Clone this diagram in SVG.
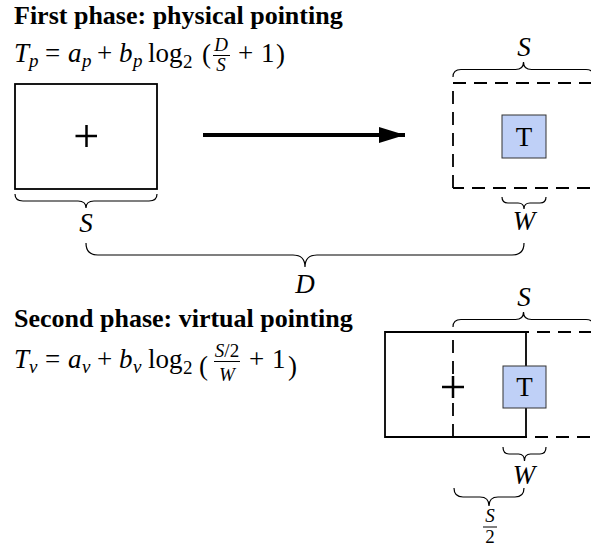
<svg xmlns="http://www.w3.org/2000/svg" width="591" height="550" viewBox="0 0 591 550">
<defs>
<style>
.ti{font-family:"Liberation Serif","Times New Roman",serif;font-weight:bold;font-size:26px;fill:#000}
.m{font-family:"Liberation Serif","Times New Roman",serif;font-size:27px;fill:#000}
.i{font-style:italic}
.sub{font-size:19px}
.box{fill:#fff;stroke:#000;stroke-width:1.8}
.dash{fill:none;stroke:#000;stroke-width:1.8;stroke-dasharray:13 8}
.brace{fill:none;stroke:#000;stroke-width:1.2}
.tgt{fill:#bfd0f7;stroke:#333;stroke-width:1}
.plus{stroke:#000;stroke-width:2.5}
.fl{stroke:#000;stroke-width:1}
</style>
<marker id="ah" viewBox="0 0 26 16" refX="26" refY="8" markerUnits="userSpaceOnUse" markerWidth="26" markerHeight="16" orient="auto">
<path d="M0,0 L26,8 L0,16 Z" fill="#000"/>
</marker>
</defs>
<rect width="591" height="550" fill="#fff"/>

<g id="phase1-title">
<text class="ti" x="14" y="23.5">First phase: physical pointing</text>
</g>
<g id="formula1">
<text class="m i" x="14" y="62">T</text>
<text class="m i sub" x="29" y="67">p</text>
<text class="m" x="45" y="62">=</text>
<text class="m i" x="68" y="62">a</text>
<text class="m i sub" x="82" y="67">p</text>
<text class="m" x="97" y="62">+</text>
<text class="m i" x="119" y="62">b</text>
<text class="m i sub" x="133" y="67">p</text>
<text class="m" x="148" y="62">log</text>
<text class="m sub" x="183" y="68">2</text>
<text class="m" x="202" y="63" font-size="30">(</text>
<text class="m i sub" x="221" y="51" text-anchor="middle">D</text>
<line class="fl" x1="213" y1="55.5" x2="230" y2="55.5"/>
<text class="m i sub" x="221" y="71" text-anchor="middle">S</text>
<text class="m" x="238" y="62">+</text>
<text class="m" x="261" y="62">1</text>
<text class="m" x="276" y="63" font-size="30">)</text>
</g>

<g id="cursor-area">
<rect class="box" x="15" y="84" width="142" height="105"/>
<line class="plus" x1="75.5" y1="136" x2="97" y2="136"/>
<line class="plus" x1="86.5" y1="125" x2="86.5" y2="147"/>
</g>

<g id="target-area-1">
<path class="dash" d="M453,188 V83 H595 V188 H453"/>
<rect class="tgt" x="502" y="115" width="44" height="43"/>
<text class="m" x="524" y="145.5" text-anchor="middle">T</text>
</g>

<g id="labels-1">
<path class="brace" d="M15,194 Q15,201 23,201 H78 Q86,201 86,208 Q86,201 94,201 H149 Q157,201 157,194"/>
<text class="m i" x="86" y="232" text-anchor="middle">S</text>
<path class="brace" d="M453,77 Q453,69.5 461,69.5 H515.5 Q523.5,69.5 523.5,62 Q523.5,69.5 531.5,69.5 H586 Q594,69.5 594,77"/>
<text class="m i" x="524" y="56" text-anchor="middle">S</text>
<path class="brace" d="M502,197 Q502,203 508,203 H518 Q524,203 524,209 Q524,203 530,203 H540 Q546,203 546,197"/>
<text class="m i" x="524" y="230" text-anchor="middle">W</text>
<path class="brace" d="M86,243 Q86,255 98,255 H293 Q305,255 305,267 Q305,255 317,255 H512 Q524,255 524,243"/>
<text class="m i" x="305" y="293" text-anchor="middle">D</text>
</g>

<g id="connectors">
<line x1="203" y1="135" x2="405" y2="135" stroke="#000" stroke-width="4" marker-end="url(#ah)"/>
</g>

<g id="phase2-title">
<text class="ti" x="14" y="327">Second phase: virtual pointing</text>
</g>
<g id="formula2">
<text class="m i" x="14" y="368">T</text>
<text class="m i sub" x="29" y="373">v</text>
<text class="m" x="45" y="368">=</text>
<text class="m i" x="68" y="368">a</text>
<text class="m i sub" x="82" y="373">v</text>
<text class="m" x="97" y="368">+</text>
<text class="m i" x="119" y="368">b</text>
<text class="m i sub" x="133" y="373">v</text>
<text class="m" x="148" y="368">log</text>
<text class="m sub" x="183" y="374">2</text>
<text class="m" x="199" y="375" font-size="44">(</text>
<text class="m sub" x="227" y="357" text-anchor="middle"><tspan class="i">S</tspan>/2</text>
<line class="fl" x1="214" y1="361.5" x2="240" y2="361.5"/>
<text class="m i sub" x="227" y="381" text-anchor="middle">W</text>
<text class="m" x="249" y="368">+</text>
<text class="m" x="272" y="368">1</text>
<text class="m" x="288" y="375" font-size="44">)</text>
</g>

<g id="target-area-2">
<path class="dash" d="M453,437 V332 H595 V437 H453"/>
</g>
<g id="cursor-area-2">
<path d="M526,332 H385 V437 H526 Z" fill="none" stroke="#000" stroke-width="1.8"/>
<line class="plus" x1="442" y1="387" x2="464" y2="387"/>
<line class="plus" x1="453" y1="376" x2="453" y2="398"/>
</g>
<g id="target-2">
<rect class="tgt" x="503" y="366" width="43" height="42"/>
<text class="m" x="524.5" y="396" text-anchor="middle">T</text>
</g>

<g id="labels-2">
<path class="brace" d="M453,327 Q453,319.5 461,319.5 H515.5 Q523.5,319.5 523.5,312 Q523.5,319.5 531.5,319.5 H586 Q594,319.5 594,327"/>
<text class="m i" x="524" y="306" text-anchor="middle">S</text>
<path class="brace" d="M503,447 Q503,454 509,454 H518.5 Q524.5,454 524.5,461 Q524.5,454 530.5,454 H540 Q546,454 546,447"/>
<text class="m i" x="524" y="484" text-anchor="middle">W</text>
<path class="brace" d="M454,488 Q454,497 463,497 H480 Q489,497 489,506 Q489,497 498,497 H515 Q524,497 524,488"/>
<text class="m i sub" x="490" y="522" text-anchor="middle">S</text>
<line class="fl" x1="483" y1="527" x2="497" y2="527"/>
<text class="m sub" x="490" y="543" text-anchor="middle">2</text>
</g>
</svg>
